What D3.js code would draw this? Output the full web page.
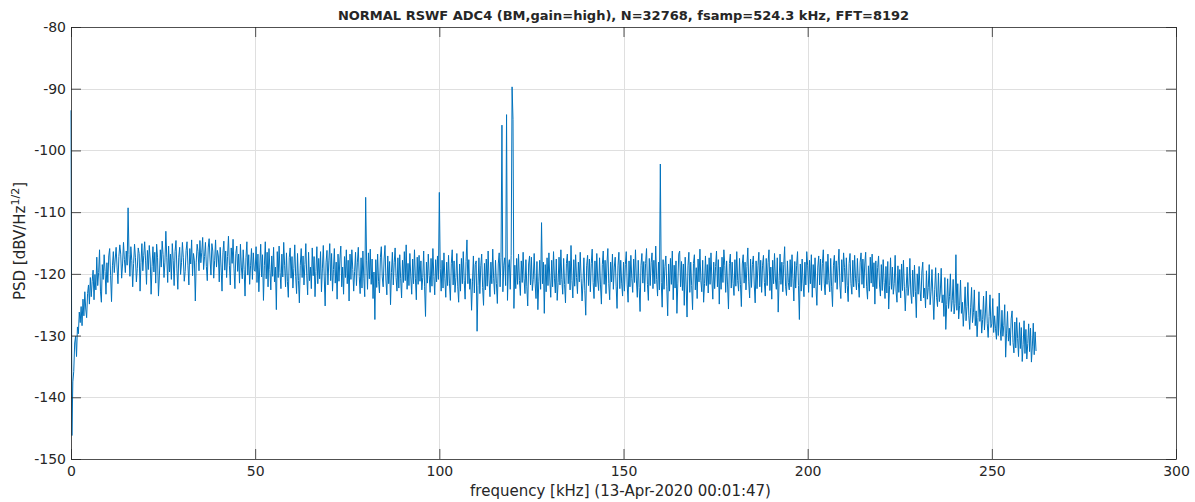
<!DOCTYPE html>
<html>
<head>
<meta charset="utf-8">
<script src="https://cdn.jsdelivr.net/npm/d3@7"></script>
<style>
  body { margin: 0; background: #fff; }
  text { font-family: "DejaVu Sans", sans-serif; fill: #262626; }
</style>
</head>
<body>
<div id="grafico"></div>
<script>
const chartTitle = "NORMAL RSWF ADC4 (BM,gain=high), N=32768, fsamp=524.3 kHz, FFT=8192";
const xLabel = "frequency [kHz] (13-Apr-2020 00:01:47)";

const xTicks = [0, 50, 100, 150, 200, 250, 300];
const yTicks = [-150, -140, -130, -120, -110, -100, -90, -80];

// spectrum bins, 0.25 kHz apart, starting at 0 kHz
const freqStep = 0.25;

const psd000 = [
  -93.5, -146.2, -137.5, -135.8, -131.2, -130.1, -133.4, -128.6, -129.7, -126.2,
  -127.9, -125.3, -128.4, -124.1, -126.8, -122.9, -125.7, -127.1, -123.2, -121.8,
  -124.9, -120.6, -123.7, -121.2, -119.4, -124.2, -120.1, -122.6, -117.3, -121.9,
  -119.8, -116.1, -122.8, -124.6, -118.5, -120.9, -116.9, -119.6, -123.3, -118.2,
  -121.4, -117.1, -115.9, -120.3, -124.5, -118.7, -116.4, -119.8, -117.6, -115.7,
  -118.9, -121.6, -117.2, -115.3, -116.8, -120.7, -118.4, -114.9, -117.7, -119.8,
  -116.3, -118.6, -109.3, -116.9, -120.4, -115.6, -117.8, -122.1, -118.3, -115.2,
  -117.4, -121.3, -119.1, -115.8, -116.7, -122.8, -118.2, -115.1, -119.5, -117,
  -114.8, -117.9, -121.7, -116.2, -119.3, -115.4, -117.6, -123.3, -118.8, -115.6,
  -119.7, -116.5, -121.5, -115.2, -117.4, -123.6, -120.2, -116.1, -118.9, -114.7,
  -116.9, -120.6, -118.1, -113.1, -117.3, -121.4, -115.5, -119.7, -116.8, -120.9,
  -115.1, -117.8, -121.9, -116.4, -114.6, -119.2, -122.5, -117.3, -115.7, -120.1,
  -118.2, -114.9, -117.4, -121.2, -119.6, -116.2, -114.8, -118.7, -121.8, -115.9,
  -118.4, -114.5, -120.3, -116.7, -117.9, -124.4, -118.1, -115.2, -116.4, -119.5,
  -114.6, -118.2, -116.5, -114.1, -119.3, -117.2, -114.9, -118.8, -121.1, -115.8,
  -114.3, -117.6, -120.2, -115.1, -116.3, -120.7, -117.8, -114.5, -118.9, -116.2,
  -117.1, -121.3, -115.7, -118.9, -122.8, -116.6, -114.7, -119.4, -116.3, -120.6,
  -117.2, -113.9, -118.6, -121.8, -115.8, -118.3, -114.4, -119.2, -122.4, -116.7,
  -115.5, -119.6, -116.8, -121.5, -115.2, -118.9, -120.8, -116.1, -119.3, -123.6,
  -117.4, -114.8, -120.2, -116.9, -121.7, -118.7, -115.9, -120.9, -116.6, -119.4
];

const psd050 = [
  -119.6, -115.6, -121.4, -116.8, -122.9, -118.9, -115.2, -120.5, -116.9, -124.3,
  -118.7, -114.8, -120.8, -116.5, -122.1, -115.9, -119.3, -122.6, -117.1, -120.4,
  -115.7, -121.3, -118.9, -125.8, -116.4, -120.6, -115.5, -119.8, -122.4, -116.8,
  -120.5, -114.9, -118.7, -122.1, -116.6, -121.2, -123.8, -117.4, -115.8, -120.7,
  -117.2, -122.3, -119.1, -115.3, -120.4, -123.2, -116.7, -121.1, -124.7, -118.6,
  -115.9, -120.6, -117.1, -121.8, -118.5, -115.1, -120.2, -123.4, -116.5, -121.1,
  -118.9, -122.4, -115.8, -120.3, -117.2, -123.7, -119.6, -115.6, -121.6, -117.5,
  -120.8, -116.4, -122.9, -119.2, -115.4, -120.5, -125.2, -118.1, -116.2, -121.8,
  -117.9, -115.1, -121.1, -116.7, -122.8, -119.3, -115.9, -121.5, -118.1, -124.1,
  -116.8, -121.2, -117.6, -115.5, -122.1, -118.9, -123.3, -117.2, -120.6, -116.1,
  -121.6, -117.8, -124.4, -116.8, -120.9, -116.1, -119.3, -122.8, -119.6, -116.5,
  -121.9, -118.1, -115.7, -120.4, -123.2, -117.4, -122.3, -116.3, -120.7, -123.7,
  -107.6, -117.9, -122.5, -116.6, -120.8, -116, -121.7, -117.6, -124, -119.7,
  -127.4, -117.7, -122.2, -116.8, -121.2, -123.1, -117.3, -115.6, -120.5, -122.1,
  -117.6, -115.4, -121, -123.4, -117.1, -121.6, -118, -125, -119.8, -116.5,
  -121.8, -118.2, -115.8, -120.6, -122.8, -117.4, -122.3, -116.9, -120.8, -123.9,
  -117.8, -121.4, -116.4, -121.1, -115.3, -122.5, -118.3, -121.9, -116.7, -120.5,
  -123.3, -117.6, -121.6, -116.1, -120.7, -124.2, -117.3, -121.7, -117, -121.2,
  -117.9, -122.6, -120.6, -116.3, -122.1, -126.9, -118.1, -121.5, -116.8, -120.3,
  -123, -117.5, -122, -115.9, -120.4, -123.4, -117.7, -121.3, -117.1, -120.9
];

const psd100 = [
  -106.8, -119.1, -122.8, -117.8, -122.3, -116.6, -120.7, -123.8, -118.1, -121.9,
  -117, -121.5, -124.3, -118.3, -116.1, -121.8, -117.9, -123, -120.6, -116.7,
  -122.1, -124.6, -118.4, -122.8, -117.5, -121.6, -116.4, -121.1, -124.1, -118,
  -114.5, -121.6, -117.7, -122.5, -120.8, -125.9, -121.3, -117.1, -123.1, -118.5,
  -117.9, -129.3, -121.9, -117.4, -123.2, -118.7, -116.8, -122.2, -125.1, -118.3,
  -122.6, -117.6, -122, -116.3, -121, -123.7, -118.1, -121.6, -116, -120.8,
  -123.3, -117.8, -121.6, -124.8, -118.4, -116.6, -122.1, -117.3, -95.9, -122.9,
  -118.6, -117.4, -121.9, -94.2, -124.3, -118.9, -117.7, -122.5, -117, -89.7,
  -95.0, -125.6, -118.6, -122.4, -117.5, -121.7, -116.8, -121.1, -123.5, -117.9,
  -121.4, -116.5, -120.8, -123.2, -117.7, -122.1, -125.2, -118.4, -117.1, -121.8,
  -117.3, -122.7, -120.9, -116.7, -121.5, -124, -118, -125.8, -121.3, -117.8,
  -122.5, -111.7, -121.6, -118.1, -126.4, -118.5, -122.9, -117.4, -121.9, -116.6,
  -121, -123.8, -117.8, -122.1, -116.4, -120.7, -123.1, -117.6, -124.3, -121.4,
  -117.3, -121.8, -116.1, -120.9, -123.3, -117.5, -121.7, -124.7, -118.3, -116.8,
  -121.6, -117.9, -122.6, -115.4, -121.1, -123.9, -117.7, -122, -116.9, -120.6,
  -123.2, -118.1, -121.3, -116.5, -120.8, -124.4, -121.5, -117.4, -122.7, -126.7,
  -118.7, -117, -121.9, -117.6, -122.9, -118.3, -116, -121.4, -124, -117.9,
  -122.1, -116.7, -121, -122.7, -117.4, -121.8, -124.9, -118.5, -116.3, -121.7,
  -117.8, -123.2, -118.4, -115.9, -121.6, -124.2, -118.1, -121.3, -116.8, -122.5,
  -118.9, -117.3, -122, -125.6, -118.7, -116.5, -122.4, -117.8, -121.5, -123.6
];

const psd150 = [
  -118.1, -122.8, -118.5, -116.4, -121.8, -124.6, -117.9, -122.1, -117, -120.8,
  -123, -117.6, -121.4, -116.1, -121, -123.8, -117.8, -122.2, -126.1, -118.6,
  -116.7, -121.5, -118, -122.9, -118.3, -115.9, -121.7, -124.3, -117.5, -121.9,
  -118.2, -116.6, -122.4, -117.8, -121.6, -115.5, -120.9, -123.6, -118.1, -122.6,
  -102.2, -121.4, -125.4, -117.7, -122.5, -118.8, -117.1, -122, -126.8, -118.4,
  -122.8, -117.5, -121.7, -116.3, -124.2, -118.6, -122.3, -117.9, -126.4, -121.5,
  -116.8, -116.3, -122.1, -118, -122.7, -118.4, -125.1, -117.3, -121.8, -127,
  -118.7, -116.5, -123, -118.1, -121.9, -125.8, -118.3, -116.9, -122.6, -119,
  -124, -117.6, -121.3, -116, -121.1, -122.9, -117.8, -124.6, -121.6, -117.1,
  -121.9, -118.5, -123.1, -117.4, -121.7, -116.6, -121, -124.1, -118.1, -122.4,
  -118.8, -116.3, -122.1, -117.7, -124.9, -118.9, -122.5, -117.3, -121.4, -116.1,
  -118.6, -123, -117.9, -121.8, -125.7, -118.3, -116.8, -122.3, -118.1, -121.6,
  -123.5, -117.7, -122, -116.4, -121.1, -122.8, -117.5, -121.7, -125.3, -118.4,
  -116.9, -121.5, -118.1, -122.6, -118.8, -115.8, -121.3, -123.9, -117.6, -122.2,
  -118.5, -117.1, -121.8, -124.7, -117.9, -122.4, -118.7, -116.5, -122.1, -117.8,
  -123, -118.6, -117, -121.4, -123.6, -117.5, -121.9, -118.2, -116.1, -122.7,
  -118.9, -124.1, -117.8, -121.6, -116.7, -121, -122.5, -117.4, -126.2, -121.1,
  -116.8, -121.7, -118.1, -122.9, -118.5, -115.6, -122, -123.5, -117.9, -121.4,
  -122.6, -117.7, -122.1, -116.9, -120.8, -124.4, -118, -122.3, -118.6, -116.4,
  -121.9, -127.4, -118.4, -122.8, -117.6, -121.5, -123.7, -118.1, -121.8, -116.4
];

const psd200 = [
  -118.7, -123, -117.8, -121.6, -116.9, -123.8, -118.5, -122.3, -117.4, -122,
  -125.1, -118.9, -117.1, -121.8, -117.6, -122.7, -118.3, -116.1, -121.5, -123.4,
  -118, -121.7, -116.8, -121.1, -122.9, -117.5, -122.1, -125.3, -118.6, -117,
  -121.4, -117.9, -122.5, -118.7, -116, -121.8, -124, -117.7, -121.3, -116.6,
  -119, -123.1, -117.4, -121.9, -124.5, -118.3, -116.7, -121.6, -123.3, -117.8,
  -122.1, -117, -120.8, -122.6, -117.5, -121.4, -123.8, -118.1, -116.6, -121.7,
  -117.6, -122.3, -118.4, -116.5, -122, -124.1, -118.7, -122.8, -117.3, -121.5,
  -116.8, -122.1, -118.2, -124.9, -117.9, -122.4, -119, -117.1, -121.8, -123.6,
  -118.5, -122.7, -117.7, -121.4, -124, -118.8, -123.1, -118, -125.7, -121.9,
  -117.4, -122.5, -118.9, -123.3, -121.6, -117, -122.8, -124.6, -118.7, -123,
  -119.3, -123.9, -118.4, -122.7, -117.8, -122.1, -126, -122.4, -118.9, -123.5,
  -121.8, -117.5, -123.1, -124.8, -119.4, -123.7, -118.6, -122.9, -127.1, -120,
  -123.3, -118.8, -122.6, -124.4, -119.7, -118.1, -123.9, -122.3, -125.5, -119.5,
  -124.1, -122.2, -118.5, -125, -122.8, -119.3, -123.6, -127.4, -122.5, -119,
  -123.8, -125.3, -119.9, -124.5, -123.1, -119.1, -124.7, -123.4, -126.9, -120.6,
  -129.0, -125, -120.8, -125.6, -123.7, -120, -126.1, -124.3, -120.9, -126.5,
  -124.8, -116.9, -125.9, -121.6, -127.3, -125.1, -121, -126.4, -124.6, -128.5,
  -125.7, -122.1, -127.6, -125.3, -121.4, -126.8, -129, -125.5, -122.2, -127.9,
  -126.3, -122.6, -128.4, -126, -130.2, -127.1, -122.9, -127.7, -125.8, -129.6,
  -127.4, -123.6, -129.1, -126.5, -122.8, -128, -130.3, -126.9, -123.4, -128.7
];

const psd250 = [
  -128.1, -124, -129.5, -126.8, -128.9, -130.6, -125.3, -130, -123.1, -128.6,
  -130.8, -125.9, -130.1, -128.4, -125, -133.5, -129.6, -126.1, -130.9, -128.8,
  -131.6, -127.3, -126, -131.1, -132.8, -127.8, -132, -127.1, -130.5, -133.4,
  -127.9, -132.1, -128.7, -134.2, -131.5, -127.6, -132.9, -129, -133.8, -131.3,
  -128.1, -132.6, -128.8, -134.3, -131.7, -128, -133.1, -129.4, -132.5
];

const psd = [...psd000, ...psd050, ...psd100, ...psd150, ...psd200, ...psd250];
const datos = psd.map((v, i) => ({ f: i * freqStep, v: v }));

const W = 1195, H = 502;
const margin = { top: 27, right: 19, bottom: 43, left: 71 };
const width = W - margin.left - margin.right;
const height = H - margin.top - margin.bottom;

const svg = d3.select("#grafico")
  .append("svg")
  .attr("width", W)
  .attr("height", H);

const g = svg.append("g")
  .attr("transform", `translate(${margin.left},${margin.top})`);

const x = d3.scaleLinear().domain([0, 300]).range([0, width]);
const y = d3.scaleLinear().domain([-150, -80]).range([height, 0]);

// grid
g.append("g")
  .selectAll("line")
  .data(xTicks.slice(1, -1))
  .enter().append("line")
  .attr("x1", d => Math.round(x(d)) + 0.5)
  .attr("x2", d => Math.round(x(d)) + 0.5)
  .attr("y1", 0).attr("y2", height)
  .attr("stroke", "#dfdfdf").attr("stroke-width", 1);

g.append("g")
  .selectAll("line")
  .data(yTicks.slice(1, -1))
  .enter().append("line")
  .attr("y1", d => Math.round(y(d)) + 0.5)
  .attr("y2", d => Math.round(y(d)) + 0.5)
  .attr("x1", 0).attr("x2", width)
  .attr("stroke", "#dfdfdf").attr("stroke-width", 1);

// spectrum
const line = d3.line()
  .x(d => x(d.f))
  .y(d => y(d.v));

g.append("path")
  .datum(datos)
  .attr("fill", "none")
  .attr("stroke", "#0072BD")
  .attr("stroke-width", 1)
  .attr("stroke-linejoin", "round")
  .attr("d", line);

// axes, ticks pointing inside
const axisStyle = sel => {
  sel.select(".domain").remove();
  sel.selectAll(".tick line").attr("stroke", "#262626").attr("stroke-width", 0.8);
  sel.selectAll(".tick text")
    .attr("font-family", "DejaVu Sans")
    .attr("font-size", 14)
    .attr("fill", "#262626");
};

const plain = d => String(d);

g.append("g")
  .attr("transform", `translate(0,${height})`)
  .call(d3.axisBottom(x).tickValues(xTicks).tickFormat(plain).tickSizeInner(-10).tickSizeOuter(0).tickPadding(7))
  .call(axisStyle);

g.append("g")
  .call(d3.axisTop(x).tickValues(xTicks).tickSizeInner(-10).tickSizeOuter(0).tickFormat(""))
  .call(axisStyle);

g.append("g")
  .call(d3.axisLeft(y).tickValues(yTicks).tickFormat(plain).tickSizeInner(-10).tickSizeOuter(0).tickPadding(5))
  .call(axisStyle);

g.append("g")
  .attr("transform", `translate(${width},0)`)
  .call(d3.axisRight(y).tickValues(yTicks).tickSizeInner(-10).tickSizeOuter(0).tickFormat(""))
  .call(axisStyle);

g.append("rect")
  .attr("x", 0.5).attr("y", 0.5)
  .attr("width", width).attr("height", height)
  .attr("fill", "none")
  .attr("stroke", "#262626")
  .attr("stroke-width", 0.8);

// title and labels
svg.append("text")
  .attr("x", margin.left + width / 2)
  .attr("y", 20)
  .attr("text-anchor", "middle")
  .attr("font-size", 13)
  .attr("font-weight", "bold")
  .text(chartTitle);

svg.append("text")
  .attr("x", margin.left + width / 2 - 3)
  .attr("y", 496)
  .attr("text-anchor", "middle")
  .attr("font-size", 15)
  .text(xLabel);

const yl = svg.append("text")
  .attr("transform", `translate(25,${margin.top + height / 2 - 2}) rotate(-90)`)
  .attr("text-anchor", "middle")
  .attr("font-size", 15);
yl.append("tspan").text("PSD [dBV/Hz");
yl.append("tspan").attr("font-size", 11).attr("dy", -6).text("1/2");
yl.append("tspan").attr("dy", 6).text("]");
</script>
</body>
</html>
